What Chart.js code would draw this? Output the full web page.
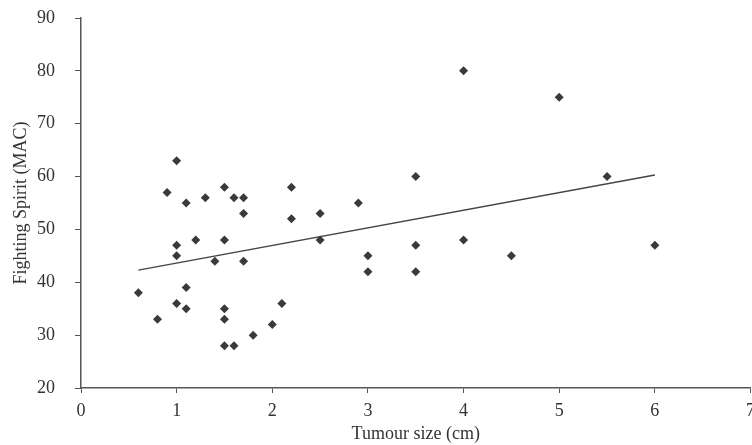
<!DOCTYPE html>
<html>
<head>
<meta charset="utf-8">
<script src="https://cdn.jsdelivr.net/npm/chart.js@4"></script>
<style>
  html, body { margin: 0; padding: 0; background: #fff; overflow: hidden; }
  #wrap { width: 762px; height: 445px; }
</style>
</head>
<body>
<div id="wrap"><canvas id="scatter-chart"></canvas></div>
<script>
// tumour size (cm) and fighting spirit (MAC) for each patient
const tumourSize = [
  0.6, 0.8, 0.9, 1.0, 1.0, 1.0, 1.0, 1.1, 1.1, 1.1,
  1.2, 1.3, 1.4, 1.5, 1.5, 1.5, 1.5, 1.5, 1.6, 1.6,
  1.7, 1.7, 1.7, 1.8, 2.0, 2.1, 2.2, 2.2, 2.5, 2.5,
  2.9, 3.0, 3.0, 3.5, 3.5, 3.5, 4.0, 4.0, 4.5, 5.0,
  5.5, 6.0
];
const fightingSpirit = [
  38, 33, 57, 63, 47, 45, 36, 55, 39, 35,
  48, 56, 44, 58, 48, 35, 33, 28, 56, 28,
  56, 53, 44, 30, 32, 36, 58, 52, 53, 48,
  55, 45, 42, 60, 47, 42, 80, 48, 45, 75,
  60, 47
];

// fitted regression line
const trendX = [0.6, 6.0];
const trendY = [42.3, 60.3];

const xTicks = [0, 1, 2, 3, 4, 5, 6, 7];
const yTicks = [20, 30, 40, 50, 60, 70, 80, 90];

const textColor = "#333";
const axisColor = "#555";
const serif = "'Liberation Serif', 'Times New Roman', serif";

const canvas = document.querySelector("#scatter-chart");

new Chart(canvas.getContext("2d"), {
  type: "scatter",
  data: {
    datasets: [
      {
        label: "Patients",
        data: tumourSize.map((x, i) => ({ x: x, y: fightingSpirit[i] })),
        pointStyle: "rectRot",
        pointRadius: 4.5,
        backgroundColor: "#3a3a3a",
        borderColor: "#3a3a3a",
        borderWidth: 0,
      },
      {
        type: "line",
        label: "Fit",
        data: trendX.map((x, i) => ({ x: x, y: trendY[i] })),
        borderColor: "#444",
        borderWidth: 1.5,
        pointRadius: 0,
        fill: false,
      },
    ],
  },
  options: {
    responsive: true,
    maintainAspectRatio: false,
    animation: false,
    layout: { padding: { top: 18, left: 0, right: 0, bottom: 0 } },
    plugins: {
      legend: { display: false },
      tooltip: { enabled: false },
    },
    scales: {
      x: {
        type: "linear",
        min: 0,
        max: 7,
        afterBuildTicks: (scale) => {
          scale.ticks = xTicks.map((v) => ({ value: v }));
        },
        afterFit: (scale) => {
          scale.height = 57;
        },
        grid: {
          drawOnChartArea: false,
          drawTicks: true,
          tickLength: 5,
          color: axisColor,
          lineWidth: 1,
        },
        border: { color: axisColor, width: 1.5 },
        ticks: {
          color: textColor,
          padding: 7,
          font: { family: serif, size: 18 },
        },
        title: {
          display: true,
          text: "Tumour size (cm)",
          color: textColor,
          font: { family: serif, size: 18 },
          padding: { top: 0, bottom: 0 },
        },
      },
      y: {
        type: "linear",
        min: 20,
        max: 90,
        afterBuildTicks: (scale) => {
          scale.ticks = yTicks.map((v) => ({ value: v }));
        },
        afterFit: (scale) => {
          scale.width = 81;
          // tick padding would otherwise push the plot top down
          scale.paddingTop = 0;
          scale.paddingBottom = 0;
        },
        grid: {
          drawOnChartArea: false,
          drawTicks: true,
          tickLength: 6,
          color: axisColor,
          lineWidth: 1,
        },
        border: { color: axisColor, width: 1.5 },
        ticks: {
          color: textColor,
          padding: 20,
          font: { family: serif, size: 18 },
        },
        title: {
          display: true,
          text: "Fighting Spirit (MAC)",
          color: textColor,
          font: { family: serif, size: 18 },
          padding: { top: 10, bottom: 0 },
        },
      },
    },
  },
});
</script>
</body>
</html>
